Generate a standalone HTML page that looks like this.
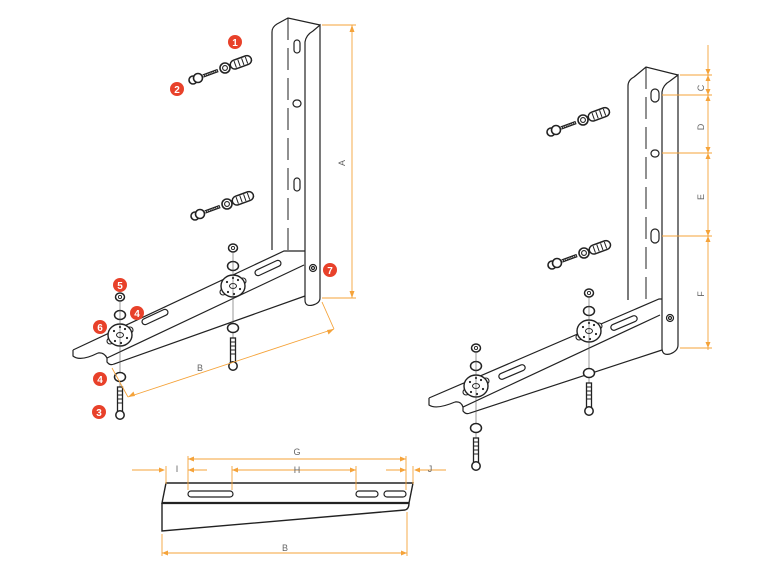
<!DOCTYPE html>
<html><head><style>
html,body{margin:0;padding:0;background:#fff;}
svg{display:block;font-family:"Liberation Sans",sans-serif;}
</style></head><body>
<svg width="777" height="569" viewBox="0 0 777 569" xmlns="http://www.w3.org/2000/svg">
<defs>
<g id="anchor">
  <circle cx="0" cy="0" r="4" fill="#fff" stroke="#222" stroke-width="1.6"/>
  <circle cx="5" cy="-2" r="4.5" fill="#fff" stroke="#222" stroke-width="1.6"/>
  <line x1="10" y1="-4" x2="25" y2="-9.5" stroke="#222" stroke-width="3.5"/>
  <line x1="10" y1="-4" x2="25" y2="-9.5" stroke="#fff" stroke-width="1" stroke-dasharray="1 1"/>
  <circle cx="32" cy="-12" r="5" fill="#fff" stroke="#222" stroke-width="1.6"/>
  <circle cx="32" cy="-12" r="2.4" fill="none" stroke="#222" stroke-width="1.1"/>
  <g transform="translate(46,-17) rotate(-20)">
    <rect x="-9" y="-4.5" width="22" height="9" rx="4.5" fill="#fff" stroke="#222" stroke-width="1.5"/>
    <path d="M-4 -3.5v7M0 -3.5v7M4 -3.5v7M8 -3.5v7" stroke="#222" stroke-width="1"/>
  </g>
</g>
<g id="mount">
  <ellipse cx="0" cy="-38" rx="4.5" ry="4" fill="#fff" stroke="#222" stroke-width="1.5"/>
  <circle cx="0" cy="-38" r="1.6" fill="none" stroke="#222" stroke-width="0.9"/>
  <ellipse cx="0" cy="-20" rx="5.5" ry="4.5" fill="#fff" stroke="#222" stroke-width="1.5"/>
  <circle cx="-10" cy="6" r="3" fill="#fff" stroke="#222" stroke-width="1.1"/>
  <circle cx="10" cy="-5" r="3" fill="#fff" stroke="#222" stroke-width="1.1"/>
  <ellipse cx="0" cy="0" rx="12" ry="11" fill="#fff" stroke="#222" stroke-width="1.4"/>
  <ellipse cx="0" cy="0" rx="3.5" ry="2.5" fill="none" stroke="#222" stroke-width="1"/>
  <circle cx="-6" cy="-4" r="1.1" fill="#222"/><circle cx="5" cy="-6" r="1.1" fill="#222"/>
  <circle cx="7" cy="3" r="1.1" fill="#222"/><circle cx="-5" cy="6" r="1.1" fill="#222"/>
  <circle cx="0" cy="-8" r="1.1" fill="#222"/><circle cx="1" cy="8" r="1.1" fill="#222"/>
  <line x1="0" y1="-34" x2="0" y2="80" stroke="#555" stroke-width="0.6"/>
  <ellipse cx="0" cy="42" rx="5.5" ry="4.5" fill="#fff" stroke="#222" stroke-width="1.5"/>
  <rect x="-2.5" y="52" width="5" height="26" fill="#fff" stroke="#222" stroke-width="1.3"/>
  <path d="M-2.5 56h5M-2.5 60h5M-2.5 64h5M-2.5 68h5" stroke="#222" stroke-width="0.9"/>
  <circle cx="0" cy="80" r="4.2" fill="#fff" stroke="#222" stroke-width="1.5"/>
</g>
</defs>

<g fill="none" stroke="#222" stroke-width="1.2">
<path d="M272 250 L272 32 Q272 27 277 24 L288 18 L320 25"/>
<path d="M305 300 L305 42 Q306 35 313 31 L320 25 L320 298 Q320 303 313 305 Q305 307 305 300"/>
<path d="M288 18 L288 250" stroke-dasharray="22 8" stroke-width="1"/>
<rect x="294" y="40" width="6" height="13" rx="3"/>
<rect x="293" y="100" width="8" height="7" rx="3.5"/>
<rect x="294" y="178" width="6" height="13" rx="3"/>
<path d="M73 350 L284 251 L305 251"/>
<path d="M73 350 L73 356 Q80 362 98 353"/>
<path d="M98 353 Q104 352 107 358 L304 265"/>
<path d="M107 358 L107 362 Q110 366 114 364 L305 296"/>
<g transform="translate(268,268) rotate(-25)"><rect x="-14" y="-3" width="28" height="6" rx="3"/></g>
<g transform="translate(155,317) rotate(-25)"><rect x="-14" y="-3" width="28" height="6" rx="3"/></g>
<circle cx="313" cy="268" r="3.5"/><circle cx="313" cy="268" r="1.5"/>

<path d="M628 300 L628 86 Q628 80 634 77 L646 67 L678 75"/>
<path d="M662 348 L662 92 Q663 85 670 81 L678 75 L678 345 Q678 351 670 354 Q662 356 662 348"/>
<path d="M646 67 L646 300" stroke-dasharray="22 8" stroke-width="1"/>
<rect x="651" y="89" width="8" height="13" rx="4"/>
<rect x="651" y="150" width="8" height="7" rx="3.5"/>
<rect x="651" y="229" width="8" height="14" rx="4"/>
<path d="M429 398 L659 299 L662 299"/>
<path d="M429 398 L429 405 Q436 410 455 402"/>
<path d="M455 402 Q461 401 463 407 L660 315"/>
<path d="M463 407 L463 411 Q466 415 470 413 L662 350"/>
<g transform="translate(624,323) rotate(-23)"><rect x="-14" y="-3" width="28" height="6" rx="3"/></g>
<g transform="translate(512,372) rotate(-23)"><rect x="-14" y="-3" width="28" height="6" rx="3"/></g>
<circle cx="670" cy="318" r="3.5"/><circle cx="670" cy="318" r="1.5"/>

<path d="M166 483 L413 483 L409 503 L162 503 Z" stroke-width="1.4"/>
<path d="M162 503 H409" stroke-width="2.2"/>
<path d="M162 503 L162 531 L405 510 Q409 509 409 503" stroke-width="1.4"/>
<rect x="188" y="491" width="45" height="6" rx="3"/>
<rect x="356" y="491" width="22" height="6" rx="3"/>
<rect x="384" y="491" width="22" height="6" rx="3"/>
</g>

<use href="#anchor" transform="translate(193,80)"/>
<use href="#anchor" transform="translate(195,216)"/>
<use href="#anchor" transform="translate(551,132)"/>
<use href="#anchor" transform="translate(552,265)"/>
<use href="#mount" transform="translate(120,335)"/>
<use href="#mount" transform="translate(233,286)"/>
<use href="#mount" transform="translate(476,386)"/>
<use href="#mount" transform="translate(589,331)"/>

<g stroke="#f5a33a" stroke-width="0.9" fill="none">
<path d="M322 25 H356 M322 298 H356 M352 25 V298"/>
<path d="M322 302 L334 329 M112 368 L128 397 M128 397 L334 329"/>
<path d="M680 75 H712 M662 95 H712 M662 153 H712 M662 236 H712 M680 348 H712 M708 45 V350"/>
<path d="M188 459 H406 M188 456 V490 M406 456 V490 M232 470 H356 M232 466 V490 M356 466 V490"/>
<path d="M132 470 H162 M166 466 V484 M188 470 H207 M386 470 H406 M413 466 V484 M415 470 H446"/>
<path d="M162 553 H407 M162 534 V556 M407 512 V556"/>
</g>
<g fill="#f5a33a">
<path d="M352 25 l-2.5 7 h5z M352 298 l-2.5 -7 h5z"/>
<path d="M128 397 l7 -1 l-1.5 -4.5z M334 329 l-7 1 l1.5 4.5z"/>
<path d="M708 75 l-2.5 -6 h5z M708 75 l-2.5 6 h5z M708 95 l-2.5 -6 h5z M708 95 l-2.5 6 h5z M708 153 l-2.5 -6 h5z M708 153 l-2.5 6 h5z M708 236 l-2.5 -6 h5z M708 236 l-2.5 6 h5z M708 348 l-2.5 -6 h5z"/>
<path d="M188 459 l6 -2.5 v5z M406 459 l-6 -2.5 v5z M232 470 l6 -2.5 v5z M356 470 l-6 -2.5 v5z"/>
<path d="M165 470 l-6 -2.5 v5z M188 470 l6 -2.5 v5z M406 470 l-6 -2.5 v5z M414 470 l6 -2.5 v5z"/>
<path d="M162 553 l6 -2.5 v5z M407 553 l-6 -2.5 v5z"/>
</g>
<g fill="#666" font-size="9">
<text x="345" y="163" transform="rotate(-90 345 163)" text-anchor="middle">A</text>
<text x="200" y="371" text-anchor="middle">B</text>
<text x="704" y="88" transform="rotate(-90 704 88)" text-anchor="middle">C</text>
<text x="704" y="127" transform="rotate(-90 704 127)" text-anchor="middle">D</text>
<text x="704" y="197" transform="rotate(-90 704 197)" text-anchor="middle">E</text>
<text x="704" y="294" transform="rotate(-90 704 294)" text-anchor="middle">F</text>
<text x="297" y="455" text-anchor="middle">G</text>
<text x="297" y="473" text-anchor="middle">H</text>
<text x="177" y="472" text-anchor="middle">I</text>
<text x="430" y="472" text-anchor="middle">J</text>
<text x="285" y="551" text-anchor="middle">B</text>
</g>

<g font-size="10" font-weight="bold" text-anchor="middle" fill="#fff">
<circle cx="235" cy="42" r="7" fill="#e8412a"/><text x="235" y="46">1</text>
<circle cx="177" cy="89" r="7" fill="#e8412a"/><text x="177" y="93">2</text>
<circle cx="99" cy="412" r="7" fill="#e8412a"/><text x="99" y="416">3</text>
<circle cx="137" cy="313" r="7" fill="#e8412a"/><text x="137" y="317">4</text>
<circle cx="100" cy="379" r="7" fill="#e8412a"/><text x="100" y="383">4</text>
<circle cx="120" cy="285" r="7" fill="#e8412a"/><text x="120" y="289">5</text>
<circle cx="100" cy="327" r="7" fill="#e8412a"/><text x="100" y="331">6</text>
<circle cx="330" cy="270" r="7" fill="#e8412a"/><text x="330" y="274">7</text>
</g>
</svg>
</body></html>
